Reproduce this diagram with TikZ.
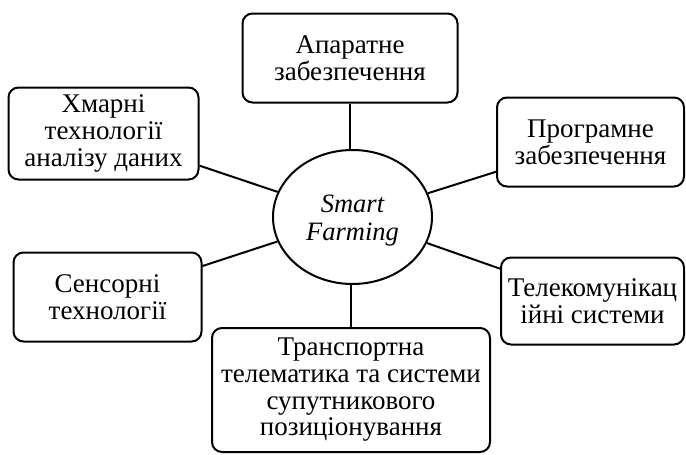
\documentclass[tikz,border=0pt]{standalone}
\usepackage{fontspec}
\setmainfont{Liberation Serif}
\usetikzlibrary{shapes.geometric}
\begin{document}
\begin{tikzpicture}[x=1pt,y=-1pt,
  box/.style={draw,line width=2pt,rounded corners=10pt,align=center,inner sep=0pt,
    font=\fontsize{27}{26.7}\selectfont},
  hub/.style={draw,ellipse,line width=2pt,inner sep=0pt},
  hubtext/.style={align=center,inner sep=0pt,font=\fontsize{26.5}{28}\selectfont\itshape},
  link/.style={line width=2pt}]
\useasboundingbox (0,0) rectangle (686,455);
\node[hub,minimum width=159pt,minimum height=134pt] (c) at (352.5,217) {};
\node[hubtext] (ct) at (352.5,221) {Smart\\Farming};
\node[box,minimum width=215pt,minimum height=89pt] (a) at (350,58) {Апаратне\\забезпечення};
\node[box,minimum width=190pt,minimum height=92pt] (b) at (103.5,133.5) {Хмарні\\технології\\аналізу даних};
\node[box,minimum width=187pt,minimum height=89pt] (p) at (590.5,142) {Програмне\\забезпечення};
\node[box,minimum width=188pt,minimum height=89pt] (s) at (107.5,297) {Сенсорні\\технології};
\node[box,minimum width=183pt,minimum height=87pt] (t) at (592.5,301) {Телекомунікац\\ійні системи};
\node[box,minimum width=278pt,minimum height=124pt] (m) at (351,390) {Транспортна\\телематика та системи\\супутникового\\позиціонування};
\draw[link] (a) -- (a|-c.north);
\draw[link] (b) -- (c);
\draw[link] (p) -- (c);
\draw[link] (s) -- (c);
\draw[link] (t) -- (c);
\draw[link] (m) -- (m|-c.south);
\end{tikzpicture}
\end{document}
